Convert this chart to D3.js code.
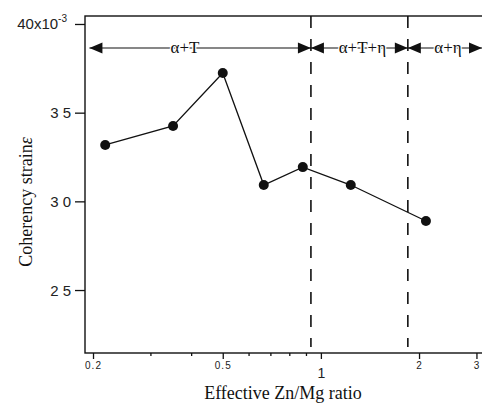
<!DOCTYPE html>
<html>
<head>
<meta charset="utf-8">
<script src="https://cdn.jsdelivr.net/npm/d3@7"></script>
<style>
  body { margin: 0; background: #fff; }
  svg { display: block; }
</style>
</head>
<body>
<div id="chart-container"></div>
<script>
// data
let ratios = [0.218, 0.352, 0.50, 0.668, 0.88, 1.235, 2.10];
let strains = [33.18, 34.25, 37.24, 30.92, 31.93, 30.92, 28.89];
let yTicks = [25, 30, 35, 40];
let xMajorTicks = [0.2, 0.5, 1, 2, 3];
let xMinorTicks = [0.3, 0.4, 0.6, 0.7, 0.8, 0.9];
let phaseBounds = [0.932, 1.848];
let phaseNames = ["α+T", "α+T+η", "α+η"];
let phaseEnds = [0.195, 0.932, 1.848, 3.12];

let chartMargin = {top: 16, right: 0, bottom: 50, left: 85},
  chartFWidth = 482,
  chartFHeight = 403,
  chartWidth = chartFWidth - chartMargin.left - chartMargin.right,
  chartHeight = chartFHeight - chartMargin.top - chartMargin.bottom;

let chartSvg = d3.select("#chart-container").append("svg")
  .attr("width", chartFWidth)
  .attr("height", chartFHeight);

let chartCanvas = chartSvg.append("g")
  .attr("transform", `translate(${chartMargin.left}, ${chartMargin.top})`);

let xScale = d3.scaleLog()
  .domain([0.189, 3.12])
  .range([0, chartWidth]);

let yScale = d3.scaleLinear()
  .domain([21.45, 40.45])
  .range([chartHeight, 0]);

// frame
chartCanvas.append("rect")
  .attr("x", 0).attr("y", 0)
  .attr("width", chartWidth + 10).attr("height", chartHeight)
  .attr("fill", "none")
  .attr("stroke", "#111")
  .attr("stroke-width", 1.4);

// y axis
let yAxis = chartCanvas.append("g")
  .call(d3.axisLeft(yScale).tickValues(yTicks).tickSize(10).tickFormat(d => d == 40 ? "" : String(d).split("").join(" ")));
yAxis.select(".domain").remove();
yAxis.selectAll("line").attr("stroke", "#111").attr("stroke-width", 1.3);
yAxis.selectAll("text")
  .attr("x", -14)
  .attr("dy", "0.35em")
  .style("font-family", "'Liberation Sans', Arial, sans-serif")
  .style("font-size", "15px")
  .attr("fill", "#222");

let topLabel = yAxis.append("text")
  .attr("x", -18)
  .attr("y", yScale(40) + 5)
  .attr("text-anchor", "end")
  .attr("fill", "#222")
  .style("font-family", "'Liberation Sans', Arial, sans-serif")
  .style("font-size", "15px");
topLabel.append("tspan").text("40x10");
topLabel.append("tspan")
  .attr("dy", -7)
  .style("font-size", "10px")
  .text("-3");

// x axis, major and minor ticks
let xAxis = chartCanvas.append("g")
  .attr("transform", `translate(0, ${chartHeight})`)
  .call(d3.axisBottom(xScale).tickValues(xMajorTicks).tickSize(6).tickFormat(d => d));
xAxis.select(".domain").remove();
xAxis.selectAll("line").attr("stroke", "#111").attr("stroke-width", 1.3);
xAxis.selectAll("text")
  .attr("y", 9)
  .attr("dy", "0.71em")
  .style("font-family", "'Liberation Sans', Arial, sans-serif")
  .style("font-size", "10px")
  .style("letter-spacing", "1px")
  .attr("fill", "#222");
xAxis.selectAll(".tick").filter(d => d == 1).select("text")
  .attr("y", 15)
  .style("font-size", "14px")
  .style("letter-spacing", "0px");

let xMinor = chartCanvas.append("g")
  .attr("transform", `translate(0, ${chartHeight})`)
  .call(d3.axisBottom(xScale).tickValues(xMinorTicks).tickSize(3).tickFormat(""));
xMinor.select(".domain").remove();
xMinor.selectAll("line").attr("stroke", "#111").attr("stroke-width", 1.3);

// phase boundaries
chartCanvas.selectAll(".bound")
  .data(phaseBounds)
  .enter().append("line")
    .classed("bound", true)
    .attr("x1", d => xScale(d)).attr("x2", d => xScale(d))
    .attr("y1", 0).attr("y2", chartHeight - 6)
    .attr("stroke", "#111")
    .attr("stroke-width", 1.6)
    .attr("stroke-dasharray", "12,11");

// phase arrows
let arrowY = 32, headLen = 13, headHalf = 5.5;
let phases = phaseNames.map((n, i) => ({name: n, x0: xScale(phaseEnds[i]), x1: xScale(phaseEnds[i + 1])}));

let phaseG = chartCanvas.selectAll(".phase")
  .data(phases)
  .enter().append("g")
    .classed("phase", true);

phaseG.append("line")
  .attr("x1", d => d.x0).attr("x2", d => d.x1)
  .attr("y1", arrowY).attr("y2", arrowY)
  .attr("stroke", "#111")
  .attr("stroke-width", 1.1);

phaseG.append("path")
  .attr("d", d => `M${d.x0},${arrowY}L${d.x0 + headLen},${arrowY - headHalf}L${d.x0 + headLen},${arrowY + headHalf}Z`
    + `M${d.x1},${arrowY}L${d.x1 - headLen},${arrowY - headHalf}L${d.x1 - headLen},${arrowY + headHalf}Z`)
  .attr("fill", "#111");

phaseG.append("text")
  .attr("x", (d, i) => i == 0 ? xScale(0.383) : (d.x0 + d.x1) / 2 + 3)
  .attr("y", arrowY + 5)
  .attr("text-anchor", "middle")
  .attr("fill", "#111")
  .attr("stroke", "#fff")
  .attr("stroke-width", 2.5)
  .attr("paint-order", "stroke")
  .style("font-family", "'Liberation Serif', 'Times New Roman', serif")
  .style("font-size", "17px")
  .text(d => d.name);

// data line and points
let strainLine = d3.line()
  .x((d, i) => xScale(ratios[i]))
  .y(d => yScale(d));

chartCanvas.append("path")
  .datum(strains)
  .attr("d", strainLine)
  .attr("fill", "none")
  .attr("stroke", "#111")
  .attr("stroke-width", 1.3);

chartCanvas.selectAll(".dot")
  .data(strains)
  .enter().append("circle")
    .classed("dot", true)
    .attr("cx", (d, i) => xScale(ratios[i]))
    .attr("cy", d => yScale(d))
    .attr("r", 5)
    .attr("fill", "#111");

// axis titles
chartSvg.append("text")
  .attr("x", 283)
  .attr("y", 399)
  .attr("text-anchor", "middle")
  .attr("fill", "#111")
  .style("font-family", "'Liberation Serif', 'Times New Roman', serif")
  .style("font-size", "18px")
  .text("Effective Zn/Mg ratio");

let yTitle = chartSvg.append("text")
  .attr("transform", "translate(32, 202) rotate(-90)")
  .attr("text-anchor", "middle")
  .attr("fill", "#111")
  .style("font-family", "'Liberation Serif', 'Times New Roman', serif")
  .style("font-size", "18px");
yTitle.append("tspan").text("Coherency strain");
yTitle.append("tspan").style("font-style", "italic").text("ε");
</script>
</body>
</html>
